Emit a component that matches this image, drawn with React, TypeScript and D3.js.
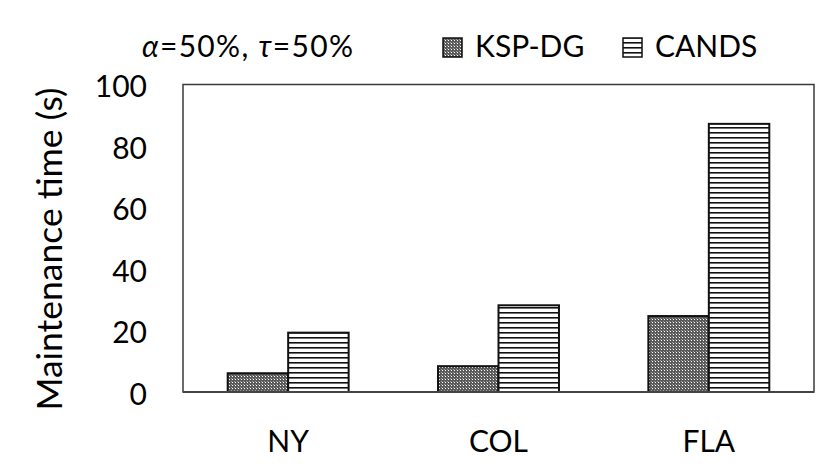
import React from "react";
import * as d3 from "d3";

const categories = ["NY", "COL", "FLA"];
const seriesNames = ["KSP-DG", "CANDS"];
const kspValues = [6.1, 8.4, 24.7];
const candsValues = [19.3, 28.2, 87.2];
const yTicks = [0, 20, 40, 60, 80, 100];

const W = 831;
const H = 470;
const plot = { left: 183, right: 814, top: 84.5, bottom: 392 };
const FONT = "Lato, 'Open Sans', sans-serif";

export default function App() {
  const x = d3
    .scaleBand<string>()
    .domain(categories)
    .range([plot.left, plot.right])
    .paddingInner(0.425)
    .paddingOuter(0.2125);
  const xs = d3.scaleBand<string>().domain(seriesNames).range([0, x.bandwidth()]);
  const y = d3.scaleLinear().domain([0, 100]).range([plot.bottom, plot.top]);

  const data = [kspValues, candsValues];
  const fills = ["url(#dots)", "url(#hstripes)"];

  return (
    <svg
      width={W}
      height={H}
      style={{ position: "absolute", left: 0, top: 0, background: "#fff" }}
      fontFamily={FONT}
    >
      <defs>
        <pattern id="dots" width={3} height={3} patternUnits="userSpaceOnUse">
          <rect width={3} height={3} fill="#5a5a5a" />
          <rect x={1} y={1} width={1} height={1} fill="#ffffff" />
          <rect x={0} y={0} width={1} height={1} fill="#9a9a9a" />
        </pattern>
        <pattern id="hstripes" width={5} height={5} patternUnits="userSpaceOnUse" y={plot.bottom}>
          <rect width={5} height={5} fill="#fff" />
          <rect y={0} width={5} height={1.6} fill="#111" />
        </pattern>
      </defs>

      {/* frame */}
      <rect
        x={plot.left}
        y={plot.top}
        width={plot.right - plot.left}
        height={plot.bottom - plot.top}
        fill="none"
        stroke="#3a3a3a"
        strokeWidth={1.5}
      />

      {/* bars */}
      {categories.map((c, i) => (
        <g key={c}>
          {seriesNames.map((s, j) => {
            const v = data[j][i];
            return (
              <rect
                key={s}
                x={(x(c) as number) + (xs(s) as number)}
                y={y(v)}
                width={xs.bandwidth()}
                height={y(0) - y(v)}
                fill={fills[j]}
                stroke="#111"
                strokeWidth={2}
              />
            );
          })}
        </g>
      ))}

      {/* x axis line */}
      <line x1={plot.left} x2={plot.right} y1={plot.bottom} y2={plot.bottom} stroke="#444" strokeWidth={2} />

      {/* y tick labels */}
      {yTicks.map((t) => (
        <text
          key={t}
          x={147}
          y={y(t) + 2}
          dy="0.36em"
          textAnchor="end"
          fontSize={30}
          fill="#000"
        >
          {t}
        </text>
      ))}

      {/* x labels */}
      {categories.map((c) => (
        <text
          key={c}
          x={(x(c) as number) + x.bandwidth() / 2}
          y={452}
          textAnchor="middle"
          fontSize={30}
          fill="#000"
        >
          {c}
        </text>
      ))}

      {/* y axis title */}
      <text
        transform={`translate(62, 249) rotate(-90)`}
        textAnchor="middle"
        fontSize={35.5}
        fill="#000"
      >
        Maintenance time (s)
      </text>

      {/* legend */}
      <text x={142} y={57} fontSize={30} fill="#000" textLength={211} lengthAdjust="spacing">
        <tspan fontStyle="italic">α</tspan>
        <tspan>=50%, </tspan>
        <tspan fontStyle="italic">τ</tspan>
        <tspan>=50%</tspan>
      </text>
      {seriesNames.map((s, j) => {
        const lx = [443, 623][j];
        return (
          <g key={s}>
            <rect x={lx} y={38} width={19} height={19} fill={fills[j]} stroke="#111" strokeWidth={1.5} />
            <text x={lx + 32} y={57} fontSize={30} fill="#000">
              {s}
            </text>
          </g>
        );
      })}
    </svg>
  );
}
